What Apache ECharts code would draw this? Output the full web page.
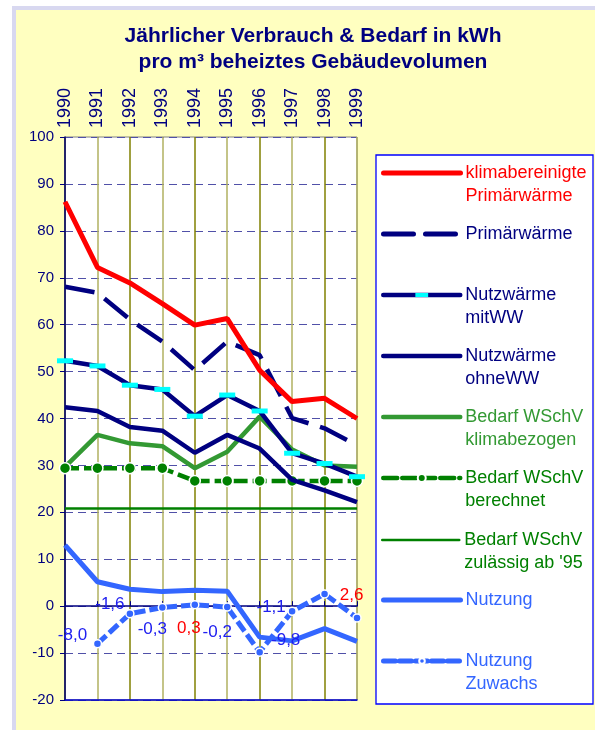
<!DOCTYPE html>
<html><head><meta charset="utf-8">
<script src="https://cdn.jsdelivr.net/npm/echarts@6/dist/echarts.min.js"></script>
<style>html,body{margin:0;padding:0;background:#fff}#c{width:595px;height:730px}</style>
</head><body><div id="c"></div>
<script>
// ---------- data ----------
const years = ['1990','1991','1992','1993','1994','1995','1996','1997','1998','1999'];
const yTicks = { min: -20, max: 100, step: 10 };
const klimaPrimaer = [86.2, 72.2, 68.9, 64.5, 59.9, 61.3, 50.3, 43.6, 44.3, 40.0];
const primaer      = [68.1, 66.8, 61.1, 56.4, 50.3, 56.4, 53.5, 40.1, 37.9, 34.3];
const nutzMitWW    = [52.3, 51.2, 47.1, 46.2, 40.5, 45.0, 41.6, 32.6, 30.4, 27.6];
const nutzOhneWW   = [42.4, 41.6, 38.2, 37.4, 32.7, 36.5, 33.6, 26.9, 24.7, 22.2];
const bedarfKlima  = [29.7, 36.5, 34.7, 34.1, 29.4, 32.9, 40.4, 33.4, 30.0, 29.7];
const bedarfBerech = [29.4, 29.4, 29.4, 29.4, 26.7, 26.7, 26.7, 26.7, 26.7, 26.7];
const bedarfZul    = [20.8, 20.8, 20.8, 20.8, 20.8, 20.8, 20.8, 20.8, 20.8, 20.8];
const nutzung      = [13.0, 5.2, 3.6, 3.1, 3.4, 3.2, -6.6, -7.4, -4.8, -7.5];
const nutzZuwachs  = [null, -8.0, -1.6, -0.3, 0.3, -0.2, -9.8, -1.1, 2.6, -2.5];
const names = [
  'klimabereinigte\nPrimärwärme',
  'Primärwärme',
  'Nutzwärme\nmitWW',
  'Nutzwärme\nohneWW',
  'Bedarf WSchV\nklimabezogen',
  'Bedarf WSchV\nberechnet',
  "Bedarf WSchV\nzulässig ab '95",
  'Nutzung',
  'Nutzung\nZuwachs'
];

// ---------- styling ----------
const FONT = '"Liberation Sans", Arial, sans-serif';
const NAVY = '#000080', RED = '#ff0000', CYAN = '#00ffff', GREEN_L = '#339933', GREEN_D = '#008000', BLUE = '#3366ff';
// label offsets (px) for the Zuwachs labels, by year index; null = no label shown
const zuwachsLabelOffsets = [null, [-25,-8], [-20,-9], [-10,22], [-6,24], [-10,25], [26,-12], [-21,-4], [27,1], null];
const legendCenters = [173, 234, 295, 356, 417, 478, 540, 600, 661];
const legendTextColors = [RED, NAVY, NAVY, NAVY, GREEN_L, GREEN_D, GREEN_D, BLUE, BLUE];
const legendItemHeights = [5, 4, 16, 4, 4, 10, 3, 5, 7];
const legendLineWidths = [5, 5, 4.5, 4.5, 4.5, 4.5, 2.5, 5, 5];
const legendHideSymbol = [true, true, false, true, true, false, true, true, false];

const cyanBar = 'path://M0,0 L0,0 M0,5.5 L16,5.5 L16,10.5 L0,10.5 Z M16,16 L16,16';

const zuwachsData = nutzZuwachs.map((v, i) => {
  const off = zuwachsLabelOffsets[i];
  return {
    value: v,
    label: off ? { show: true, offset: off, color: v > 0 ? RED : '#2020f0' } : { show: false }
  };
});

const legends = names.map((n, i) => {
  const two = n.indexOf('\n') >= 0;
  const lg = {
    data: [n],
    left: 381,
    top: legendCenters[i] - (two ? 34.5 : 11.5),
    orient: 'vertical',
    padding: 0,
    itemWidth: 77,
    itemHeight: legendItemHeights[i],
    selectedMode: false,
    formatter: (name) => name.indexOf('\n') >= 0 ? '\n' + name : name,
    lineStyle: { width: legendLineWidths[i], cap: 'round' },
    textStyle: { fontSize: 18, lineHeight: 23, color: legendTextColors[i], fontFamily: FONT }
  };
  if (legendHideSymbol[i]) lg.itemStyle = { opacity: 0 };
  return lg;
});

const lineBase = { type: 'line', xAxisIndex: 0, yAxisIndex: 0, symbol: 'none', smooth: false };

const option = {
  backgroundColor: '#ffffff',
  animation: false,
  textStyle: { fontFamily: FONT },
  title: {
    text: 'Jährlicher Verbrauch & Bedarf in kWh\npro m³ beheiztes Gebäudevolumen',
    left: 313, top: 23, textAlign: 'center', padding: 0,
    textStyle: { fontSize: 21, fontWeight: 'bold', color: NAVY, lineHeight: 26, fontFamily: FONT }
  },
  graphic: [
    { type: 'rect', silent: true, z: -10, shape: { x: 12, y: 6, width: 583, height: 724 }, style: { fill: '#d8d8f0' } },
    { type: 'rect', silent: true, z: -9, shape: { x: 16, y: 10, width: 579, height: 720 }, style: { fill: '#ffffc0' } },
    { type: 'rect', silent: true, z: -8, shape: { x: 376, y: 155, width: 217, height: 549 }, style: { fill: '#ffffff', stroke: '#0000ff', lineWidth: 1.3 } }
  ],
  grid: { left: 65, top: 137, width: 292, height: 563, show: true, backgroundColor: '#ffffff', borderColor: '#808080', borderWidth: 1 },
  xAxis: [
    {
      type: 'category', data: years, position: 'top', boundaryGap: false,
      axisLine: { lineStyle: { color: NAVY, width: 1.5 } },
      axisTick: { show: true, length: 5, lineStyle: { color: NAVY } },
      axisLabel: { rotate: 90, fontSize: 18, color: NAVY, margin: 9, interval: 0, fontFamily: FONT },
      splitLine: { show: true, interval: 0, lineStyle: { color: ['#808000', '#b0b060'], width: 1.5 } }
    },
    {
      type: 'category', data: years, position: 'bottom', boundaryGap: false,
      axisLine: { lineStyle: { color: '#0000cc', width: 1.5 } },
      axisTick: { show: false }, axisLabel: { show: false }, splitLine: { show: false }
    }
  ],
  yAxis: {
    type: 'value', min: yTicks.min, max: yTicks.max, interval: yTicks.step,
    axisLine: { show: true, lineStyle: { color: NAVY, width: 1.5 } },
    axisTick: { show: true, length: 5, lineStyle: { color: NAVY } },
    axisLabel: { fontSize: 15, color: NAVY, margin: 11, fontFamily: FONT },
    splitLine: { show: true, lineStyle: { color: '#5050a8', type: [8, 5], width: 1 } }
  },
  legend: legends,
  series: [
    Object.assign({}, lineBase, { name: names[7], data: nutzung, z: 2,
      lineStyle: { color: BLUE, width: 5 }, itemStyle: { color: BLUE } }),
    Object.assign({}, lineBase, { name: names[8], data: zuwachsData, z: 2,
      symbol: 'circle', symbolSize: 8, showSymbol: true,
      lineStyle: { color: BLUE, width: 5, type: [12, 4] },
      itemStyle: { color: BLUE, borderColor: '#ffffff', borderWidth: 1.5 },
      label: { show: true, position: 'inside', fontSize: 17, fontFamily: FONT,
        formatter: (p) => p.value == null ? '' : p.value.toFixed(1).replace('.', ',') } }),
    Object.assign({}, lineBase, { name: names[6], data: bedarfZul, z: 3,
      lineStyle: { color: GREEN_D, width: 2.5 }, itemStyle: { color: GREEN_D } }),
    Object.assign({}, lineBase, { name: names[5], data: bedarfBerech, z: 3,
      symbol: 'circle', symbolSize: 11, showSymbol: true,
      lineStyle: { color: GREEN_D, width: 4.5, type: [14, 5] },
      itemStyle: { color: GREEN_D, borderColor: '#ffffff', borderWidth: 1.5 } }),
    Object.assign({}, lineBase, { name: names[4], data: bedarfKlima, z: 3,
      lineStyle: { color: GREEN_L, width: 4.5 }, itemStyle: { color: GREEN_L } }),
    Object.assign({}, lineBase, { name: names[3], data: nutzOhneWW, z: 4,
      lineStyle: { color: NAVY, width: 4.5 }, itemStyle: { color: NAVY } }),
    Object.assign({}, lineBase, { name: names[2], data: nutzMitWW, z: 4,
      symbol: cyanBar, symbolSize: 16, showSymbol: true,
      lineStyle: { color: NAVY, width: 4.5 }, itemStyle: { color: CYAN, borderWidth: 0 } }),
    Object.assign({}, lineBase, { name: names[1], data: primaer, z: 4,
      lineStyle: { color: NAVY, width: 4.5, type: [30, 12] }, itemStyle: { color: NAVY } }),
    Object.assign({}, lineBase, { name: names[0], data: klimaPrimaer, z: 5,
      lineStyle: { color: RED, width: 5 }, itemStyle: { color: RED } })
  ]
};

const chart = echarts.init(document.getElementById('c'), null, { renderer: 'canvas' });
chart.setOption(option);
</script>
</body></html>
